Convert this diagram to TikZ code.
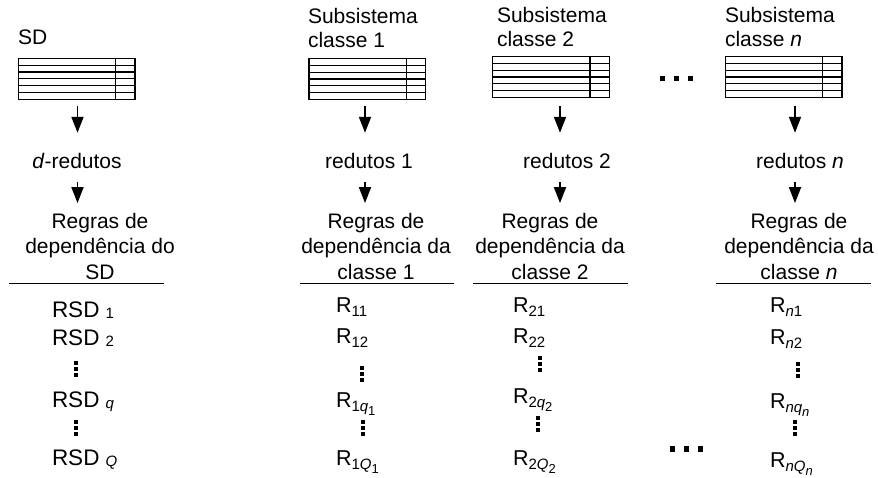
\documentclass[tikz,border=0pt]{standalone}
\usepackage{fontspec}
\setmainfont{Liberation Sans}
\usetikzlibrary{arrows.meta,calc}
\newcommand{\sbs}[1]{\raisebox{-4pt}{\fontsize{15}{15}\selectfont #1}}
\newcommand{\sbss}[1]{\raisebox{-4pt}{\fontsize{13}{13}\selectfont #1}}
\newcommand{\rsdsub}[1]{\kern6pt\raisebox{-1.5pt}{\fontsize{15}{15}\selectfont #1}}
\begin{document}
\begin{tikzpicture}[x=1pt,y=-1pt,
  every node/.style={inner sep=0pt, outer sep=0pt, font=\fontsize{21}{24}\selectfont},
  lbl/.style={anchor=base},
  rowlbl/.style={anchor=base west, font=\fontsize{21.5}{24}\selectfont},
  rsd/.style={anchor=base west, font=\fontsize{22.5}{24}\selectfont},
  blk/.style={font=\fontsize{21}{25.5}\selectfont, align=center, anchor=base},
  ttl/.style={align=left, anchor=base west},
  tbl/.style={draw, line width=1.3pt, minimum width=116.7pt, minimum height=40.8pt},
  tline/.style={line width=1.1pt},
  arr/.style={line width=1.8pt, -{Triangle[length=16pt,width=12pt]}},
  rulestyle/.style={line width=1.2pt},
  sq/.style={fill=black}
]
\useasboundingbox (0,0) rectangle (878,477);

% axes for arrows
\coordinate (ax0) at (77.5,0);
\coordinate (ax1) at (365,0);
\coordinate (ax2) at (560,0);
\coordinate (axn) at (795,0);

% tables
\node[tbl] (t0) at (76.7,78.8) {};
\node[tbl] (t1) at (367.3,79) {};
\node[tbl] (t2) at (550.8,77) {};
\node[tbl] (tn) at (783.5,77) {};
\foreach \t in {t0,t1,t2,tn}{
  \foreach \k in {1,...,5}{
    \draw[tline] ($(\t.north west)!\k/6!(\t.south west)$) -- ($(\t.north east)!\k/6!(\t.south east)$);
  }
  \draw[tline] ([xshift=97.5pt]\t.north west) -- ([xshift=97.5pt]\t.south west);
}

% titles (base anchor = last line baseline)
\node[ttl] (h0) at (18,44) {SD};
\node[ttl] (h1) at (308,47.5) {Subsistema\\classe 1};
\node[ttl] (h2) at (497,46.5) {Subsistema\\classe 2};
\node[ttl] (hn) at (725,46.7) {Subsistema\\classe \textit{n}};

% middle labels
\node[lbl] (d0) at (77,168) {\textit{d}-redutos};
\node[lbl] (d1) at (369,168) {redutos 1};
\node[lbl] (d2) at (567,168) {redutos 2};
\node[lbl] (dn) at (800,168) {redutos \textit{n}};

% rule blocks (base anchor = last line baseline)
\node[blk] (g0) at (100,279) {Regras de\\dependência do\\SD};
\node[blk] (g1) at (376,279) {Regras de\\dependência da\\classe 1};
\node[blk] (g2) at (550,279) {Regras de\\dependência da\\classe 2};
\node[blk] (gn) at (799,279) {Regras de\\dependência da\\classe \textit{n}};

% arrows
\draw[arr, shorten <=6.7pt, shorten >=20pt] (t0.south -| ax0) -- (d0.north -| ax0);
\draw[arr, shorten <=6.7pt, shorten >=20pt] (t1.south -| ax1) -- (d1.north -| ax1);
\draw[arr, shorten <=8.7pt, shorten >=20pt] (t2.south -| ax2) -- (d2.north -| ax2);
\draw[arr, shorten <=8.7pt, shorten >=20pt] (tn.south -| axn) -- (dn.north -| axn);
\draw[arr, shorten <=14pt, shorten >=9.7pt] (d0.south -| ax0) -- (g0.north -| ax0);
\draw[arr, shorten <=14pt, shorten >=9.7pt] (d1.south -| ax1) -- (g1.north -| ax1);
\draw[arr, shorten <=14pt, shorten >=9.7pt] (d2.south -| ax2) -- (g2.north -| ax2);
\draw[arr, shorten <=14pt, shorten >=9.7pt] (dn.south -| axn) -- (gn.north -| axn);

% rules
\draw[rulestyle] (9,283.5) -- (164,283.5);
\draw[rulestyle] (300,283.5) -- (454,283.5);
\draw[rulestyle] (473,283.5) -- (628,283.5);
\draw[rulestyle] (716,283.5) -- (871,283.5);

% rows SD
\node[rsd] (s1) at (52,317) {RSD\rsdsub{1}};
\node[rsd] (s2) at (52,345) {RSD\rsdsub{2}};
\node[rsd] (sq) at (52,407) {RSD\rsdsub{\textit{q}}};
\node[rsd] (sQ) at (52,465) {RSD\rsdsub{\textit{Q}}};
% rows class 1
\node[rowlbl] (a1) at (336,312) {R\sbs{11}};
\node[rowlbl] (a2) at (336,343) {R\sbs{12}};
\node[rowlbl] (aq) at (336,407) {R\sbs{1\textit{q}\sbss{1}}};
\node[rowlbl] (aQ) at (336,465) {R\sbs{1\textit{Q}\sbss{1}}};
% rows class 2
\node[rowlbl] (b1) at (513,312) {R\sbs{21}};
\node[rowlbl] (b2) at (513,343) {R\sbs{22}};
\node[rowlbl] (bq) at (513,403) {R\sbs{2\textit{q}\sbss{2}}};
\node[rowlbl] (bQ) at (513,465) {R\sbs{2\textit{Q}\sbss{2}}};
% rows class n
\node[rowlbl] (c1) at (770,312) {R\sbs{\textit{n}1}};
\node[rowlbl] (c2) at (770,344) {R\sbs{\textit{n}2}};
\node[rowlbl] (cq) at (770,408) {R\sbs{\textit{nq}\sbss{\textit{n}}}};
\node[rowlbl] (cQ) at (770,467) {R\sbs{\textit{nQ}\sbss{\textit{n}}}};

% vertical ellipses
\foreach \x/\y in {76/369, 76/428, 362/374, 363/428, 540/364, 538/424, 798/370, 795/428}{
  \foreach \dy in {-6.3,0,6.3}{
    \fill[sq] (\x-2,\y+\dy-2) rectangle ++(4,4);
  }
}
% horizontal ellipses
\foreach \x/\y in {676.5/78.5, 686.5/449}{
  \foreach \dx in {-13.8,0,13.8}{
    \fill[sq] (\x+\dx-2.75,\y-2.75) rectangle ++(5.5,5.5);
  }
}
\end{tikzpicture}
\end{document}
